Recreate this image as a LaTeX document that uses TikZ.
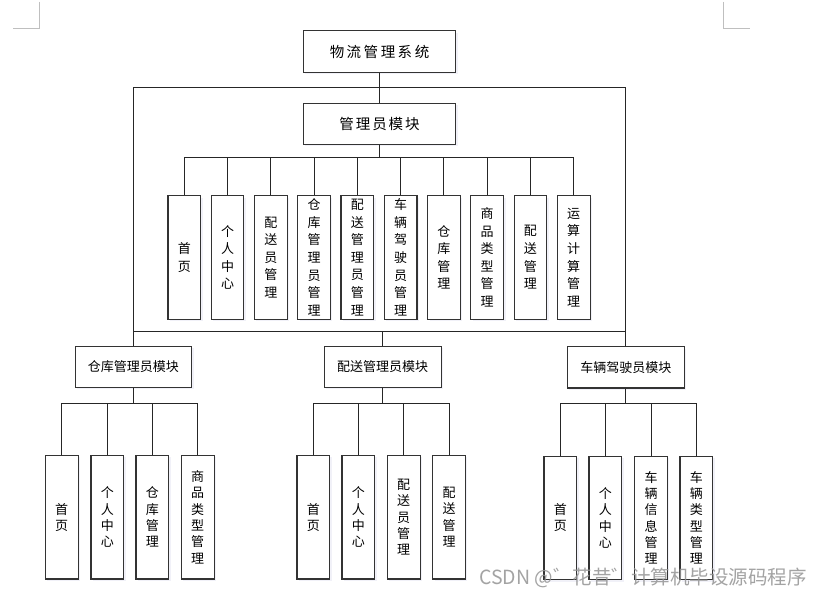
\documentclass[tikz,border=0pt]{standalone}
\usepackage{fontspec}
\setmainfont{Noto Sans CJK SC}
\usetikzlibrary{shadows}
\tikzset{
  box/.style={draw=black!80, line width=1.1pt, fill=white, inner sep=0pt, align=center,
    general shadow={fill=blue!30!gray, opacity=0.08, shadow xshift=2pt, shadow yshift=-2pt}},
  topbox/.style={box, minimum width=152.4pt, minimum height=41.3pt, font=\fontsize{14.5}{16}\selectfont},
  modbox/.style={box, minimum width=116.7pt, minimum height=41.3pt, font=\fontsize{13}{15}\selectfont},
  leaf/.style={box, minimum width=32.7pt, minimum height=123.5pt, font=\fontsize{13}{17.6}\selectfont},
  lowleaf/.style={leaf, font=\fontsize{13}{16.3}\selectfont},
  conn/.style={draw=black!85, line width=1pt},
  pagemark/.style={draw=black!25, line width=0.8pt},
}
\newcommand{\tsp}{\hspace{2.5pt}}
\newcommand{\asp}{\hspace{1.9pt}}
\begin{document}
\begin{tikzpicture}[x=1pt,y=-1pt]
\useasboundingbox (0,0) rectangle (818,596);
\fill[white] (0,0) rectangle (818,596);
% page corner marks
\coordinate (ml1) at (39.3,2);
\coordinate (ml2) at (39.3,28.3);
\coordinate (ml3) at (13,28.3);
\coordinate (mr1) at (723.6,2);
\coordinate (mr2) at (723.6,28.3);
\coordinate (mr3) at (750,28.3);
\draw[pagemark] (ml1) -- (ml2) -- (ml3);
\draw[pagemark] (mr1) -- (mr2) -- (mr3);

% top
\node[topbox] (title) at (379.5,51.6) {物\tsp 流\tsp 管\tsp 理\tsp 系\tsp 统};
\node[topbox] (admin) at (379.5,123.8) {管\asp 理\asp 员\asp 模\asp 块};

% admin leaves
\foreach \i/\t in {0/{首\\页},1/{个\\人\\中\\心},2/{配\\送\\员\\管\\理},3/{仓\\库\\管\\理\\员\\管\\理},
  4/{配\\送\\管\\理\\员\\管\\理},5/{车\\辆\\驾\\驶\\员\\管\\理},6/{仓\\库\\管\\理},7/{商\\品\\类\\型\\管\\理},
  8/{配\\送\\管\\理},9/{运\\算\\计\\算\\管\\理}}{
  \node[leaf] (a\i) at ({184.3+43.27*\i},257.4) {\t};
}

% modules
\node[modbox] (wh) at (133.4,366.7) {仓库管理员模块};
\node[modbox] (dist) at (382.7,366.7) {配送管理员模块};
\node[modbox] (veh) at (625.8,367.3) {车辆驾驶员模块};

% warehouse leaves
\node[lowleaf] (w0) at (61.7,517.2) {首\\页};
\node[lowleaf] (w1) at (107.3,517.2) {个\\人\\中\\心};
\node[lowleaf] (w2) at (152.3,517.2) {仓\\库\\管\\理};
\node[lowleaf] (w3) at (197.7,517.2) {商\\品\\类\\型\\管\\理};
% distribution leaves
\node[lowleaf] (d0) at (313.3,517.2) {首\\页};
\node[lowleaf] (d1) at (358.3,517.2) {个\\人\\中\\心};
\node[lowleaf] (d2) at (403.7,517.2) {配\\送\\员\\管\\理};
\node[lowleaf] (d3) at (449.0,517.2) {配\\送\\管\\理};
% vehicle leaves
\node[lowleaf] (v0) at (560.3,517.8) {首\\页};
\node[lowleaf] (v1) at (605.3,517.8) {个\\人\\中\\心};
\node[lowleaf] (v2) at (651.0,517.8) {车\\辆\\信\\息\\管\\理};
\node[lowleaf] (v3) at (696.3,517.8) {车\\辆\\类\\型\\管\\理};

% connectors
\coordinate (fl) at (133.4,87.7);
\coordinate (fr) at (625.8,87.7);
\coordinate (gl) at (133.4,331);
\coordinate (gr) at (625.8,331);
\coordinate (gm) at (382.7,331);
\draw[conn] (title) -- (admin);
\draw[conn] (fl) -- (fr);
\draw[conn] (fl) -- (wh.north);
\draw[conn] (fr) -- (veh.north);
\draw[conn] (gl) -- (gr);
\draw[conn] (gm) -- (dist.north);

\coordinate (ab) at (379.5,157.3);
\draw[conn] (admin.south) -- (ab);
\foreach \i in {0,...,9}{ \draw[conn] (ab) -| (a\i.north); }

\coordinate (wb) at (133.4,403);
\draw[conn] (wh.south) -- (wb);
\foreach \i in {0,...,3}{ \draw[conn] (wb) -| (w\i.north); }
\coordinate (db) at (382.7,403);
\draw[conn] (dist.south) -- (db);
\foreach \i in {0,...,3}{ \draw[conn] (db) -| (d\i.north); }
\coordinate (vb) at (625.8,403.7);
\draw[conn] (veh.south) -- (vb);
\foreach \i in {0,...,3}{ \draw[conn] (vb) -| (v\i.north); }

% watermark
\node[anchor=west, inner sep=0pt, text=black!42, opacity=0.85, font=\fontsize{19.5}{22}\selectfont] (wm) at (479,578) {CSDN @゛花昔゛计算机毕设源码程序};
\end{tikzpicture}
\end{document}
